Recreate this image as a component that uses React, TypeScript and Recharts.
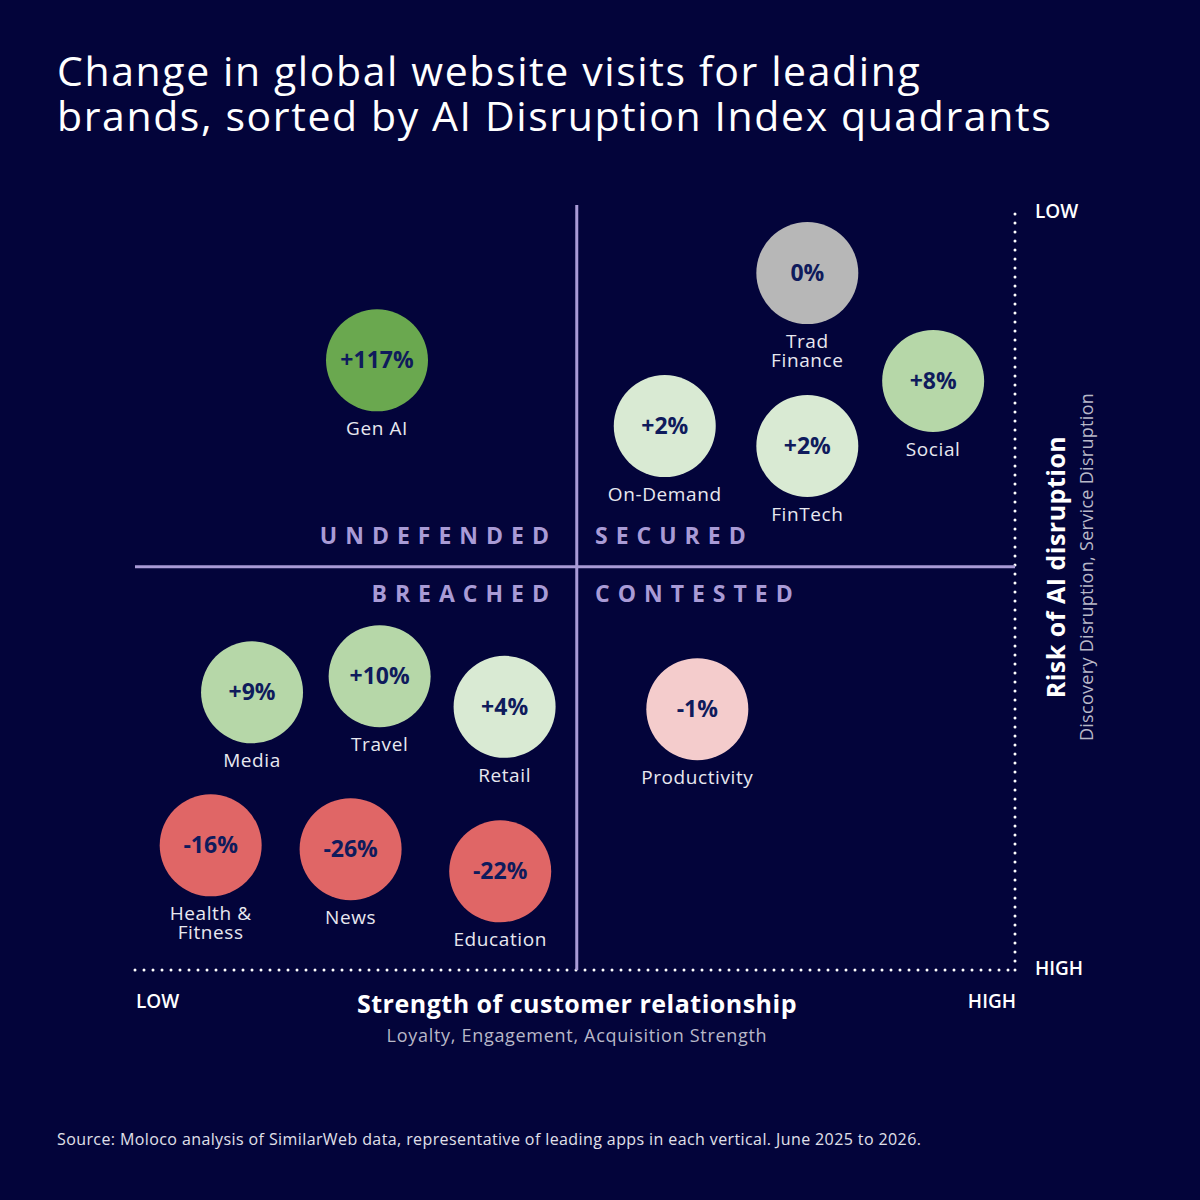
import React from 'react';
import { ScatterChart, Scatter, XAxis, YAxis, ZAxis, ReferenceLine } from 'recharts';

const BG = '#03043a';
const LAV = '#a99bd6';
const NAVY = '#0f1b5c';
const FONT = '"Open Sans", "Noto Sans", sans-serif';

// x = strength of customer relationship (0 low .. 100 high)
// y = defence against AI disruption (0 = high risk .. 100 = low risk)
const names = ['Gen AI', 'Trad\nFinance', 'Social', 'On-Demand', 'FinTech', 'Media', 'Travel', 'Retail', 'Productivity', 'Health &\nFitness', 'News', 'Education'];
const xs = [27.5, 76.4, 90.7, 60.2, 76.4, 13.3, 27.8, 42.0, 63.9, 8.6, 24.5, 41.5];
const ys = [79.7, 91.1, 77.0, 71.1, 68.5, 36.3, 38.4, 34.4, 34.1, 16.3, 15.8, 12.9];
const changes = [117, 0, 8, 2, 2, 9, 10, 4, -1, -16, -26, -22];

const MID_X = 50.2;
const MID_Y = 52.7;

function colorFor(v: number): string {
  if (v >= 50) return '#6aa84f';
  if (v >= 8) return '#b6d7a8';
  if (v > 0) return '#d9ead3';
  if (v === 0) return '#b7b7b7';
  if (v > -5) return '#f4cccc';
  return '#e06666';
}

const data = names.map((name, i) => ({ name, x: xs[i], y: ys[i], change: changes[i] }));

function Bubble(props: any) {
  const { cx, cy, payload } = props;
  const v = payload.change;
  const label = v > 0 ? `+${v}%` : `${v}%`;
  const lines = String(payload.name).split('\n');
  return (
    <g>
      <circle cx={cx} cy={cy} r={51} fill={colorFor(v)} />
      <text x={cx} y={cy + 8} textAnchor="middle" fill={NAVY} fontSize={23} fontWeight={700} fontFamily={FONT}>{label}</text>
      {lines.map((l, i) => (
        <text key={i} x={cx} y={cy + 75 + i * 19} textAnchor="middle" fill="#e8e8f0" fontSize={19} letterSpacing={0.6} fontFamily={FONT}>{l}</text>
      ))}
    </g>
  );
}

const quad = { fill: LAV, fontSize: 23, fontWeight: 700, letterSpacing: 8, fontFamily: FONT } as const;

export default function App() {
  document.body.style.margin = '0';
  return (
    <div style={{ position: 'relative', width: 1200, height: 1200, background: BG, fontFamily: FONT, overflow: 'hidden' }}>
      <div style={{ position: 'absolute', left: 57, top: 48, color: '#fff', fontSize: 41, lineHeight: '45px', letterSpacing: 1.6, fontWeight: 400 }}>
        Change in global website visits for leading<br />brands, sorted by AI Disruption Index quadrants
      </div>
      <ScatterChart width={1200} height={1200} margin={{ left: 135, right: 185, top: 205, bottom: 230 }} style={{ position: 'absolute', left: 0, top: 0 }}>
        <XAxis type="number" dataKey="x" domain={[0, 100]} hide />
        <YAxis type="number" dataKey="y" domain={[0, 100]} hide />
        <ZAxis range={[100, 100]} />
        <ReferenceLine segment={[{ x: 0, y: 0 }, { x: 100, y: 0 }]} stroke="#fff" strokeWidth={3} strokeDasharray="0 9" strokeLinecap="round" />
        <ReferenceLine segment={[{ x: 100, y: 0 }, { x: 100, y: 100 }]} stroke="#fff" strokeWidth={3} strokeDasharray="0 9" strokeLinecap="round" />
        <ReferenceLine x={MID_X} stroke={LAV} strokeWidth={3} />
        <ReferenceLine y={MID_Y} stroke={LAV} strokeWidth={3} />
        <Scatter data={data} shape={Bubble} isAnimationActive={false} />
      </ScatterChart>
      <svg width={1200} height={1200} style={{ position: 'absolute', left: 0, top: 0, pointerEvents: 'none' }}>
        <text x={557} y={544} textAnchor="end" {...quad}>UNDEFENDED</text>
        <text x={595} y={544} {...quad}>SECURED</text>
        <text x={557} y={602} textAnchor="end" {...quad}>BREACHED</text>
        <text x={595} y={602} {...quad}>CONTESTED</text>
        <text x={1035} y={218} fill="#fff" fontSize={19} fontWeight={600} fontFamily={FONT}>LOW</text>
        <text x={1035} y={975} fill="#fff" fontSize={19} fontWeight={600} fontFamily={FONT}>HIGH</text>
        <text x={136} y={1008} fill="#fff" fontSize={19} fontWeight={600} fontFamily={FONT}>LOW</text>
        <text x={1016} y={1008} textAnchor="end" fill="#fff" fontSize={19} fontWeight={600} fontFamily={FONT}>HIGH</text>
        <text x={577} y={1013} textAnchor="middle" fill="#fff" fontSize={25} fontWeight={700} letterSpacing={0.5} fontFamily={FONT}>Strength of customer relationship</text>
        <text x={577} y={1042} textAnchor="middle" fill="#b8b8c8" fontSize={18} letterSpacing={0.7} fontFamily={FONT}>Loyalty, Engagement, Acquisition Strength</text>
        <text transform="translate(1065,567) rotate(-90)" textAnchor="middle" fill="#fff" fontSize={25} fontWeight={700} letterSpacing={0.5} fontFamily={FONT}>Risk of AI disruption</text>
        <text transform="translate(1093,567) rotate(-90)" textAnchor="middle" fill="#b8b8c8" fontSize={18} letterSpacing={0.3} fontFamily={FONT}>Discovery Disruption, Service Disruption</text>
        <text x={57} y={1145} fill="#e0e0ea" fontSize={16} letterSpacing={0.4} fontFamily={FONT}>Source: Moloco analysis of SimilarWeb data, representative of leading apps in each vertical. June 2025 to 2026.</text>
      </svg>
    </div>
  );
}
